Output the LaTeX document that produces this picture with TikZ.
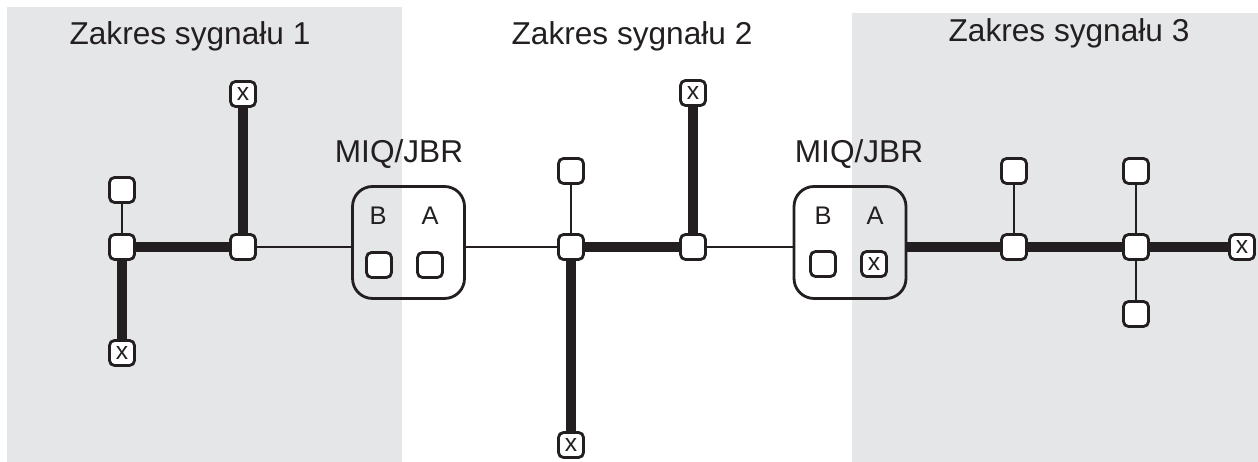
\documentclass[tikz,border=0pt]{standalone}
\usepackage{fontspec}
\setmainfont{Liberation Sans}
\usetikzlibrary{positioning}
\definecolor{zone}{HTML}{E5E6E8}
\definecolor{ink}{HTML}{231F20}

\begin{document}
\begin{tikzpicture}[x=0.02cm, y=-0.02cm,
  title/.style={font=\fontsize{18}{21}\selectfont, text=ink, anchor=base, inner sep=0pt},
  port/.style={font=\fontsize{14.5}{17}\selectfont, text=ink, anchor=base, inner sep=0pt},
  sq/.style={draw=ink, fill=white, line width=1.6pt, rounded corners=0.1cm, minimum size=0.5cm, inner sep=0pt, text=ink, font=\fontsize{14}{14}\selectfont},
  miq/.style={draw=ink, line width=1.6pt, rounded corners=0.4cm, minimum size=2.24cm, inner sep=0pt},
  trunk/.style={draw=ink, line width=5.5pt},
  spur/.style={draw=ink, line width=1.5pt}]
\useasboundingbox (0,0) rectangle (1258,462);
\fill[zone] (7,7) rectangle (402,462);
\fill[zone] (852,13) rectangle (1258,462);
\node[title] (z1) at (190,45) {Zakres sygnału 1};
\node[title] (z2) at (632,45) {Zakres sygnału 2};
\node[title] (z3) at (1069,42) {Zakres sygnału 3};
\node[miq] (miqL) at (408.5,242.5) {};
\node[title] (miqLt) at (399,163) {MIQ/JBR};
\node[port] (miqLB) at (378,225) {B};
\node[port] (miqLA) at (430,225) {A};
\node[sq] (miqLb) at (379,265) {};
\node[sq] (miqLa) at (430,265) {};
\node[miq] (miqR) at (850,242.5) {};
\node[title] (miqRt) at (859,163) {MIQ/JBR};
\node[port] (miqRB) at (823,225) {B};
\node[port] (miqRA) at (875,225) {A};
\node[sq] (miqRb) at (823,264) {};
\node[sq] (miqRa) at (874,264) {x};
% Zakres 1
\node[sq] (a1) at (122,247) {};
\node[sq] (a1t) at (122,190) {};
\node[sq] (a1b) at (122,353) {x};
\node[sq] (a2) at (243,247) {};
\node[sq] (a2t) at (243,94) {x};
% Zakres 2
\node[sq] (b1) at (571,247) {};
\node[sq] (b1t) at (571,171) {};
\node[sq] (b1b) at (571,445) {x};
\node[sq] (b2) at (693,247) {};
\node[sq] (b2t) at (693,93) {x};
% Zakres 3
\node[sq] (c1) at (1014,247) {};
\node[sq] (c1t) at (1014,171) {};
\node[sq] (c2) at (1136,247) {};
\node[sq] (c2t) at (1136,171) {};
\node[sq] (c2b) at (1136,314) {};
\node[sq] (c3) at (1242,247) {x};
\draw[spur] (a1) -- (a1t);
\draw[trunk] (a1) -- (a1b);
\draw[trunk] (a1) -- (a2);
\draw[trunk] (a2) -- (a2t);
\draw[spur] (a2) -- (a2 -| miqL.west);
\draw[spur] (miqL.east |- b1) -- (b1);
\draw[spur] (b1) -- (b1t);
\draw[trunk] (b1) -- (b1b);
\draw[trunk] (b1) -- (b2);
\draw[trunk] (b2) -- (b2t);
\draw[spur] (b2) -- (b2 -| miqR.west);
\draw[trunk] (miqR.east |- c1) -- (c1);
\draw[spur] (c1) -- (c1t);
\draw[trunk] (c1) -- (c2);
\draw[spur] (c2) -- (c2t);
\draw[spur] (c2) -- (c2b);
\draw[trunk] (c2) -- (c3);
\end{tikzpicture}
\end{document}
